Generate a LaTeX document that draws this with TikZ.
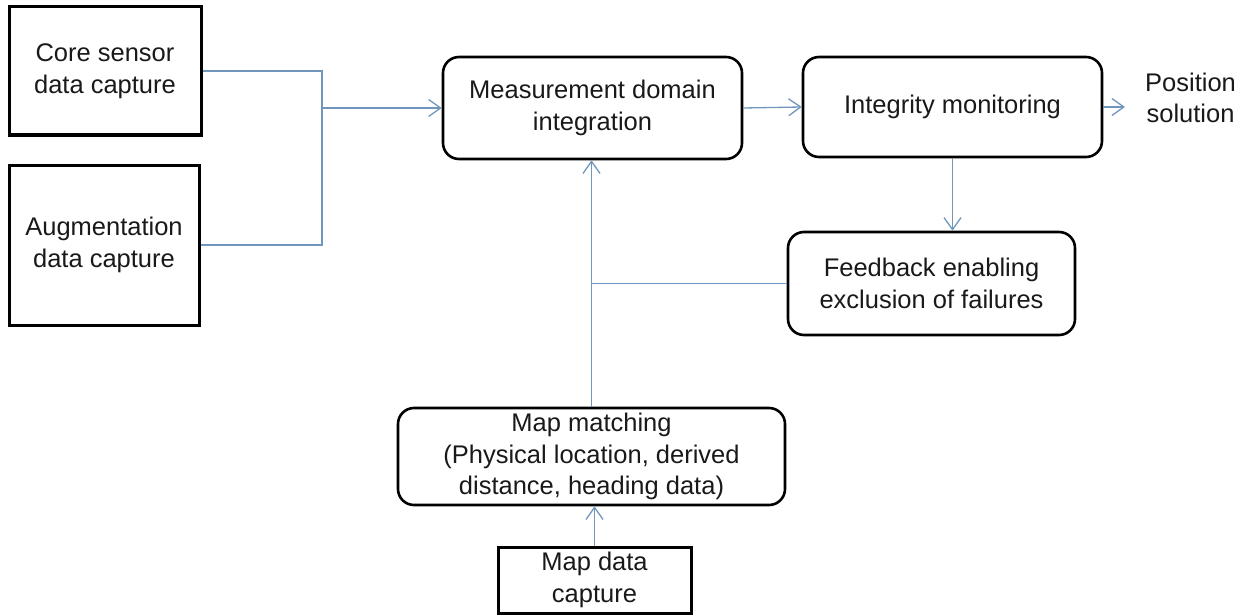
\documentclass[tikz,border=0pt]{standalone}
\usepackage{fontspec}
\setmainfont{Liberation Sans}
\usetikzlibrary{arrows.meta}
\definecolor{linkblue}{RGB}{112,150,190}
\begin{document}
\begin{tikzpicture}[x=1pt,y=-1pt,
  every node/.style={font=\fontsize{25.5}{31.5}\selectfont, align=center, text=black!90},
  sqbox/.style={draw=black, line width=3pt, inner sep=0pt},
  rbox/.style={draw=black, line width=2.6pt, rounded corners=16pt, inner sep=0pt},
  link/.style={draw=linkblue, line width=1.3pt},
  arr/.style={link, -{Straight Barb[length=12pt,width=17pt,line width=1.3pt]}}
]
\useasboundingbox (0,0) rectangle (1244,615);

% input boxes
\node[sqbox, minimum width=192pt, minimum height=128pt] (core) at (105,71) {Core sensor\\data capture};
\node[sqbox, minimum width=190pt, minimum height=160pt] (aug) at (104,245) {Augmentation\\data capture};

% processing chain
\node[rbox, minimum width=299pt, minimum height=102pt] (meas) at (592.5,108) {Measurement domain\\integration};
\node[rbox, minimum width=299pt, minimum height=100pt] (integ) at (952.5,107) {Integrity monitoring};
\node[anchor=west, inner sep=0pt] (pos) at (1145,98) {Position\\solution};
\node[rbox, minimum width=287pt, minimum height=103pt] (feed) at (931.5,283.5) {Feedback enabling\\exclusion of failures};
\node[rbox, minimum width=387pt, minimum height=97pt] (mm) at (591.5,456.5) {Map matching\\(Physical location, derived\\distance, heading data)};
\node[sqbox, minimum width=193pt, minimum height=66pt] (mdc) at (594.5,580) {Map data\\capture};

% merge of the two capture streams
\coordinate (j) at (322,108);
\draw[link] (core.east) -| (j);
\draw[link] (aug.east) -| (j);
\draw[arr] (j) -- (meas.west);

% main flow
\draw[arr] (meas.east) -- (integ.west);
\draw[arr] (integ.east) -- ([xshift=-20pt]pos.west |- integ.east);
\draw[arr] (integ.south) -- (integ.south |- feed.north);

% feedback and map matching into integration
\draw[arr] (mm.north) -- (mm.north |- meas.south);
\draw[link] (feed.west) -- (feed.west -| mm.north);
\draw[arr] (mdc.north) -- (mdc.north |- mm.south);
\end{tikzpicture}
\end{document}
